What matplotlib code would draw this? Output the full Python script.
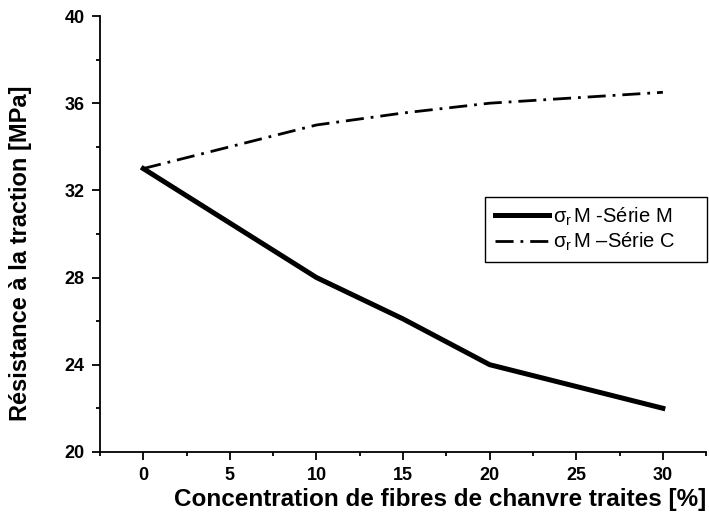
import matplotlib
matplotlib.use('Agg')
import matplotlib.pyplot as plt
import matplotlib.patches as mpatches
from matplotlib.ticker import MultipleLocator

plt.rcParams['font.family'] = ['Liberation Sans', 'DejaVu Sans']
plt.rcParams['mathtext.fontset'] = 'custom'
plt.rcParams['mathtext.rm'] = 'Liberation Sans'
plt.rcParams['mathtext.it'] = 'Liberation Sans'

# Concentration de fibres (%) et résistance à la traction (MPa)
conc = [0, 10, 15, 20, 30]
serie_m = [33.0, 28.0, 26.1, 24.0, 22.0]
serie_c = [33.0, 35.0, 35.55, 36.0, 36.5]
labels = [r'$\sigma_{r}\,$M -Série M', r'$\sigma_{r}\,$M –Série C']

fig = plt.figure(figsize=(7.09, 5.17), dpi=100)
ax = fig.add_axes([0.141, 0.126, 0.855, 0.843])

ax.plot(conc, serie_m, color='black', lw=3.6, solid_joinstyle='miter',
        label=labels[0])
ax.plot(conc, serie_c, color='black', lw=2.0, dashes=(6.5, 2.5, 1, 2.5),
        dash_capstyle='butt', label=labels[1])

ax.set_xlim(-2.5, 32.5)
ax.set_ylim(20, 40)
ax.xaxis.set_major_locator(MultipleLocator(5))
ax.xaxis.set_minor_locator(MultipleLocator(2.5))
ax.yaxis.set_major_locator(MultipleLocator(4))
ax.yaxis.set_minor_locator(MultipleLocator(2))
ax.set_xticks([0, 5, 10, 15, 20, 25, 30])

for s in ['top', 'right']:
    ax.spines[s].set_visible(False)
for s in ['left', 'bottom']:
    ax.spines[s].set_linewidth(1.3)

ax.tick_params(which='major', direction='out', length=6, width=1.3,
               labelsize=13, pad=5)
ax.tick_params(which='minor', direction='out', length=3, width=1.3)
for t in ax.get_xticklabels() + ax.get_yticklabels():
    t.set_fontweight('bold')

ax.set_xlabel('Concentration de fibres de chanvre traites [%]',
              fontsize=17.5, fontweight='bold', loc='right', labelpad=3)
ax.set_ylabel('Résistance à la traction [MPa]', fontsize=17,
              fontweight='bold')
ax.yaxis.set_label_coords(-0.112, 0.455)

# legend box is wider than the text, so draw its frame separately
box = mpatches.Rectangle((0.635, 0.436), 0.367, 0.149, transform=ax.transAxes,
                         facecolor='white', edgecolor='black', lw=1.0,
                         clip_on=False, zorder=4)
ax.add_patch(box)
leg = ax.legend(loc='center left', bbox_to_anchor=(0.651, 0.511),
                borderaxespad=0, borderpad=0, fontsize=14.5, frameon=False,
                handlelength=2.7, handletextpad=0.2, labelspacing=0.15)
leg.set_zorder(5)

fig.savefig('out.png', dpi=100, facecolor='white')
plt.close(fig)
